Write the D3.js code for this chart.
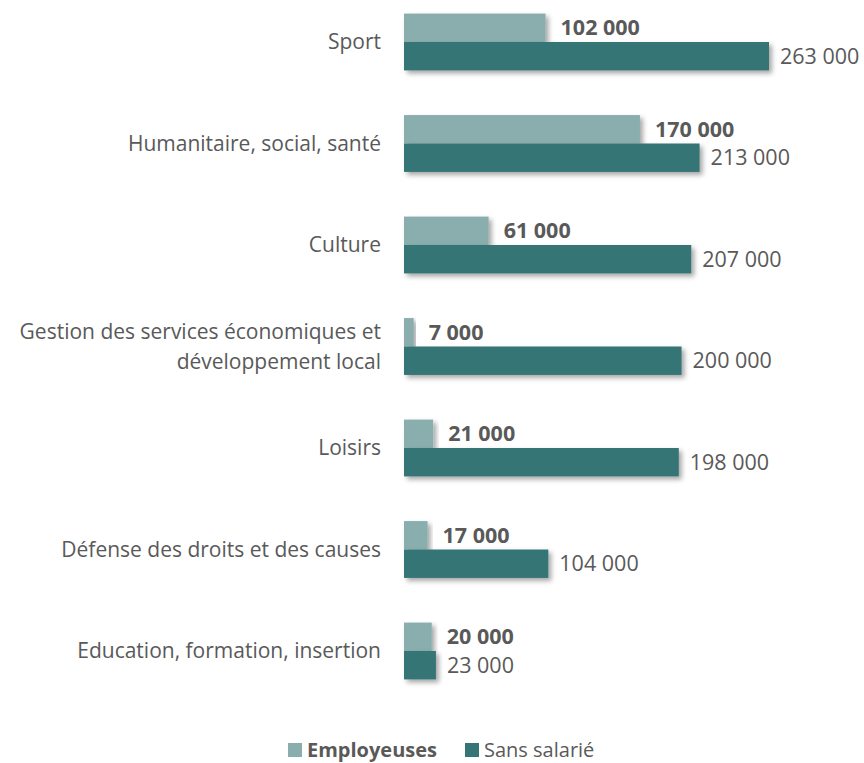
<!DOCTYPE html>
<html>
<head>
<meta charset="utf-8">
<script src="https://cdn.jsdelivr.net/npm/d3@7"></script>
<style>
  body { margin: 0; background: #fff; }
  text { font-family: "Open Sans", Lato, sans-serif; fill: #595959; }
</style>
</head>
<body>
<div id="chart"></div>
<script>
// categories, top to bottom
const categories = [
	["Sport"],
	["Humanitaire, social, santé"],
	["Culture"],
	["Gestion des services économiques et", "développement local"],
	["Loisirs"],
	["Défense des droits et des causes"],
	["Education, formation, insertion"]
];
const employeuses = [102000, 170000, 61000, 7000, 21000, 17000, 20000];
const sansSalarie = [263000, 213000, 207000, 200000, 198000, 104000, 23000];
const seriesNames = ["Employeuses", "Sans salarié"];
const colors = ["#8aadad", "#367575"];

const width = 864, height = 763;
const margin = { top: 0, left: 404 };

const svg = d3.select("#chart")
	.append("svg")
	.attr("width", width)
	.attr("height", height);

// drop shadow for bars
const defs = svg.append("defs");
defs.append("filter")
	.attr("id", "shadow")
	.attr("x", "-10%").attr("y", "-20%")
	.attr("width", "130%").attr("height", "160%")
	.append("feDropShadow")
	.attr("dx", 3).attr("dy", 3)
	.attr("stdDeviation", 2.5)
	.attr("flood-color", "#000")
	.attr("flood-opacity", 0.35);

const x = d3.scaleLinear()
	.domain([0, 263000])
	.range([margin.left, 769]);

const y = d3.scaleBand()
	.domain(d3.range(categories.length))
	.range([-8.75, 701.75])
	.paddingInner(0.44)
	.paddingOuter(0.22);

const inner = d3.scaleBand()
	.domain([0, 1])
	.range([0, y.bandwidth()]);

const fmt = v => d3.format(",")(v).replace(/,/g, " ");

const rows = categories.map((c, i) => ({
	label: c,
	values: [employeuses[i], sansSalarie[i]]
}));

const g = svg.append("g");

const row = g.selectAll("g.row")
	.data(rows)
	.join("g")
	.attr("class", "row")
	.attr("transform", (d, i) => `translate(0,${y(i)})`);

// bars
row.selectAll("rect")
	.data(d => d.values)
	.join("rect")
	.attr("x", x(0))
	.attr("y", (d, j) => inner(j))
	.attr("width", d => x(d) - x(0))
	.attr("height", inner.bandwidth())
	.attr("fill", (d, j) => colors[j])
	.attr("filter", "url(#shadow)");

// value labels
row.selectAll("text.val")
	.data(d => d.values)
	.join("text")
	.attr("class", "val")
	.attr("x", (d, j) => x(d) + (j === 0 ? 15 : 11))
	.attr("y", (d, j) => inner(j) + inner.bandwidth() / 2)
	.attr("dy", "0.35em")
	.style("font-size", "21.5px")
	.style("font-weight", (d, j) => j === 0 ? "bold" : "normal")
	.text(d => fmt(d));

// category labels
row.append("text")
	.attr("class", "cat")
	.attr("x", 381)
	.attr("y", y.bandwidth() / 2)
	.attr("text-anchor", "end")
	.style("font-size", "21px")
	.each(function (d) {
		const t = d3.select(this);
		const n = d.label.length;
		d.label.forEach((line, k) => {
			t.append("tspan")
				.attr("x", 381)
				.attr("dy", k === 0 ? `${0.35 - (n - 1) * 0.7}em` : "1.4em")
				.text(line);
		});
	});

// legend
const legend = svg.append("g")
	.attr("transform", "translate(0,750)");
const legendX = [288, 465];
seriesNames.forEach((name, j) => {
	legend.append("rect")
		.attr("x", legendX[j])
		.attr("y", -7)
		.attr("width", 14)
		.attr("height", 14)
		.attr("fill", colors[j]);
	legend.append("text")
		.attr("x", legendX[j] + 19)
		.attr("y", 0)
		.attr("dy", "0.35em")
		.style("font-size", "20px")
		.style("font-weight", j === 0 ? "bold" : "normal")
		.text(name);
});
</script>
</body>
</html>
